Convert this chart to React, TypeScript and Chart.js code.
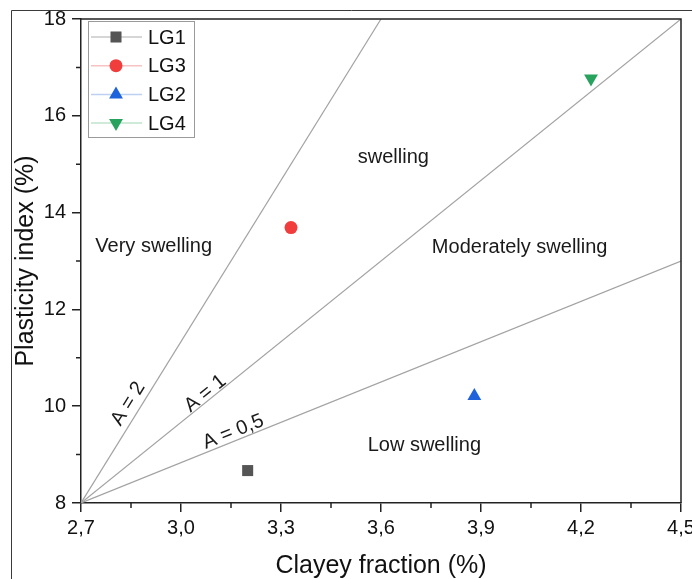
import React, { useEffect, useRef } from "react";
import { Chart, registerables } from "chart.js";

Chart.register(...registerables);

// ---- data ----
const seriesNames = ["LG1", "LG3", "LG2", "LG4"];
const seriesX = [3.2, 3.33, 3.88, 4.23];
const seriesY = [8.67, 13.69, 10.21, 16.77];
const seriesColors = ["#555555", "#f23d3d", "#1f63dc", "#27a35e"];
const seriesLegendLine = ["#c8c8c8", "#f7c2c2", "#bcd0f2", "#bfe3cc"];
const seriesStyles = ["rect", "circle", "triangle", "triangle"];
const seriesRotation = [0, 0, 0, 180];
const seriesRadius = [7.8, 6.5, 8, 8];

const activityNames = ["A = 2", "A = 1", "A = 0,5"];
const activityX0 = [2.7, 2.7, 2.7];
const activityY0 = [8, 8, 8];
const activityX1 = [3.6, 4.5, 4.5];
const activityY1 = [18, 18, 13];

const activityLabelX = [2.842, 3.073, 3.157];
const activityLabelY = [10.05, 10.26, 9.47];

const zoneNames = ["Very swelling", "swelling", "Moderately swelling", "Low swelling"];
const zoneX = [2.918, 3.637, 4.016, 3.73];
const zoneY = [13.3, 15.13, 13.28, 9.18];

const xTicks = [2.7, 3.0, 3.3, 3.6, 3.9, 4.2, 4.5];
const xMinorTicks = [2.85, 3.15, 3.45, 3.75, 4.05, 4.35];
const yTicks = [8, 10, 12, 14, 16, 18];
const yMinorTicks = [9, 11, 13, 15, 17];

const xTitle = "Clayey fraction (%)";
const yTitle = "Plasticity index (%)";

const FONT = "'Liberation Sans', Arial, sans-serif";
const AXIS = "#222222";

function drawMarker(ctx: CanvasRenderingContext2D, style: string, rot: number, x: number, y: number, r: number, color: string) {
  ctx.save();
  ctx.fillStyle = color;
  ctx.beginPath();
  if (style === "rect") {
    const s = r * Math.SQRT1_2;
    ctx.rect(x - s, y - s, 2 * s, 2 * s);
  } else if (style === "circle") {
    ctx.arc(x, y, r, 0, Math.PI * 2);
  } else {
    const sgn = rot === 180 ? -1 : 1;
    const h = Math.sin(Math.PI / 3) * r;
    ctx.moveTo(x, y - sgn * r);
    ctx.lineTo(x - h, y + sgn * r * 0.5);
    ctx.lineTo(x + h, y + sgn * r * 0.5);
    ctx.closePath();
  }
  ctx.fill();
  ctx.restore();
}

const decorPlugin = {
  id: "decor",
  afterDraw(chart: any) {
    const ctx: CanvasRenderingContext2D = chart.ctx;
    const xs = chart.scales.x;
    const ys = chart.scales.y;
    const ca = chart.chartArea;
    ctx.save();

    // outer frame
    ctx.strokeStyle = "#3a3a3a";
    ctx.lineWidth = 1;
    ctx.beginPath();
    ctx.moveTo(11.5, 579);
    ctx.lineTo(11.5, 10.5);
    ctx.lineTo(692, 10.5);
    ctx.stroke();

    // top & right axis lines
    ctx.strokeStyle = AXIS;
    ctx.lineWidth = 1.5;
    ctx.beginPath();
    ctx.moveTo(ca.left, ca.top);
    ctx.lineTo(ca.right, ca.top);
    ctx.lineTo(ca.right, ca.bottom);
    ctx.stroke();

    // minor ticks
    ctx.lineWidth = 1.5;
    ctx.beginPath();
    xMinorTicks.forEach((v) => {
      const px = xs.getPixelForValue(v);
      ctx.moveTo(px, ca.bottom);
      ctx.lineTo(px, ca.bottom + 5);
    });
    yMinorTicks.forEach((v) => {
      const py = ys.getPixelForValue(v);
      ctx.moveTo(ca.left, py);
      ctx.lineTo(ca.left - 5, py);
    });
    ctx.stroke();

    // zone labels
    ctx.fillStyle = "#1a1a1a";
    ctx.font = `20px ${FONT}`;
    ctx.textAlign = "center";
    ctx.textBaseline = "middle";
    zoneNames.forEach((t, i) => {
      ctx.fillText(t, xs.getPixelForValue(zoneX[i]), ys.getPixelForValue(zoneY[i]));
    });

    // activity labels rotated along lines
    activityNames.forEach((t, i) => {
      const dx = xs.getPixelForValue(activityX1[i]) - xs.getPixelForValue(activityX0[i]);
      const dy = ys.getPixelForValue(activityY1[i]) - ys.getPixelForValue(activityY0[i]);
      const ang = Math.atan2(dy, dx);
      ctx.save();
      ctx.translate(xs.getPixelForValue(activityLabelX[i]), ys.getPixelForValue(activityLabelY[i]));
      ctx.rotate(ang);
      ctx.fillText(t, 0, 0);
      ctx.restore();
    });

    // axis titles
    ctx.font = `25px ${FONT}`;
    ctx.fillStyle = "#111";
    ctx.fillText(xTitle, (ca.left + ca.right) / 2, 566);
    ctx.save();
    ctx.translate(26, (ca.top + ca.bottom) / 2);
    ctx.rotate(-Math.PI / 2);
    ctx.fillText(yTitle, 0, 0);
    ctx.restore();

    // legend
    const lx = 88, ly = 21, lw = 106, lh = 116;
    ctx.fillStyle = "#ffffff";
    ctx.fillRect(lx, ly, lw, lh);
    ctx.strokeStyle = "#9a9a9a";
    ctx.lineWidth = 1;
    ctx.strokeRect(lx + 0.5, ly + 0.5, lw, lh);
    ctx.font = `20px ${FONT}`;
    ctx.textAlign = "left";
    seriesNames.forEach((n, i) => {
      const y = 37 + i * 28.7;
      ctx.strokeStyle = seriesLegendLine[i];
      ctx.lineWidth = 1.5;
      ctx.beginPath();
      ctx.moveTo(91, y);
      ctx.lineTo(142, y);
      ctx.stroke();
      drawMarker(ctx, seriesStyles[i], seriesRotation[i], 116, y, seriesRadius[i], seriesColors[i]);
      ctx.fillStyle = "#111";
      ctx.fillText(n, 148, y + 1);
    });

    ctx.restore();
  },
};

export default function App() {
  const ref = useRef<HTMLCanvasElement | null>(null);
  useEffect(() => {
    if (!ref.current) return;
    const datasets: any[] = [];
    activityNames.forEach((n, i) => {
      datasets.push({
        label: n,
        data: [
          { x: activityX0[i], y: activityY0[i] },
          { x: activityX1[i], y: activityY1[i] },
        ],
        showLine: true,
        borderColor: "#a3a3a3",
        borderWidth: 1.2,
        pointRadius: 0,
        order: 2,
      });
    });
    seriesNames.forEach((n, i) => {
      datasets.push({
        label: n,
        data: [{ x: seriesX[i], y: seriesY[i] }],
        pointStyle: seriesStyles[i],
        rotation: seriesRotation[i],
        pointRadius: seriesRadius[i],
        backgroundColor: seriesColors[i],
        borderColor: seriesColors[i],
        borderWidth: 0,
        order: 1,
      });
    });
    const chart = new Chart(ref.current, {
      type: "scatter",
      data: { datasets },
      plugins: [decorPlugin],
      options: {
        animation: false,
        responsive: false,
        devicePixelRatio: 1,
        layout: { padding: { top: 19, right: 11, left: 0, bottom: 0 } },
        plugins: { legend: { display: false }, tooltip: { enabled: false } },
        scales: {
          x: {
            type: "linear",
            min: 2.7,
            max: 4.5,
            afterBuildTicks: (s: any) => {
              s.ticks = xTicks.map((v) => ({ value: v }));
            },
            afterFit: (s: any) => {
              s.height = 76;
              s.paddingLeft = 0;
              s.paddingRight = 0;
            },
            ticks: {
              autoSkip: false,
              maxRotation: 0,
              padding: 4,
              color: "#111",
              font: { family: FONT, size: 20 },
              callback: (v: any) => Number(v).toFixed(1).replace(".", ","),
            },
            grid: { drawOnChartArea: false, drawTicks: true, tickLength: 9, color: AXIS, lineWidth: 1.5 },
            border: { display: true, color: AXIS, width: 1.5 },
          },
          y: {
            type: "linear",
            min: 8,
            max: 18,
            afterBuildTicks: (s: any) => {
              s.ticks = yTicks.map((v) => ({ value: v }));
            },
            afterFit: (s: any) => {
              s.width = 81;
              s.paddingTop = 0;
              s.paddingBottom = 0;
            },
            ticks: {
              padding: 6,
              color: "#111",
              font: { family: FONT, size: 20 },
              callback: (v: any) => String(v),
            },
            grid: { drawOnChartArea: false, drawTicks: true, tickLength: 9, color: AXIS, lineWidth: 1.5 },
            border: { display: true, color: AXIS, width: 1.5 },
          },
        },
      } as any,
    });
    return () => chart.destroy();
  }, []);
  return (
    <div style={{ position: "absolute", left: 0, top: 0, width: 692, height: 579, background: "#fff" }}>
      <canvas ref={ref} width={692} height={579} style={{ width: 692, height: 579, display: "block" }} />
    </div>
  );
}
